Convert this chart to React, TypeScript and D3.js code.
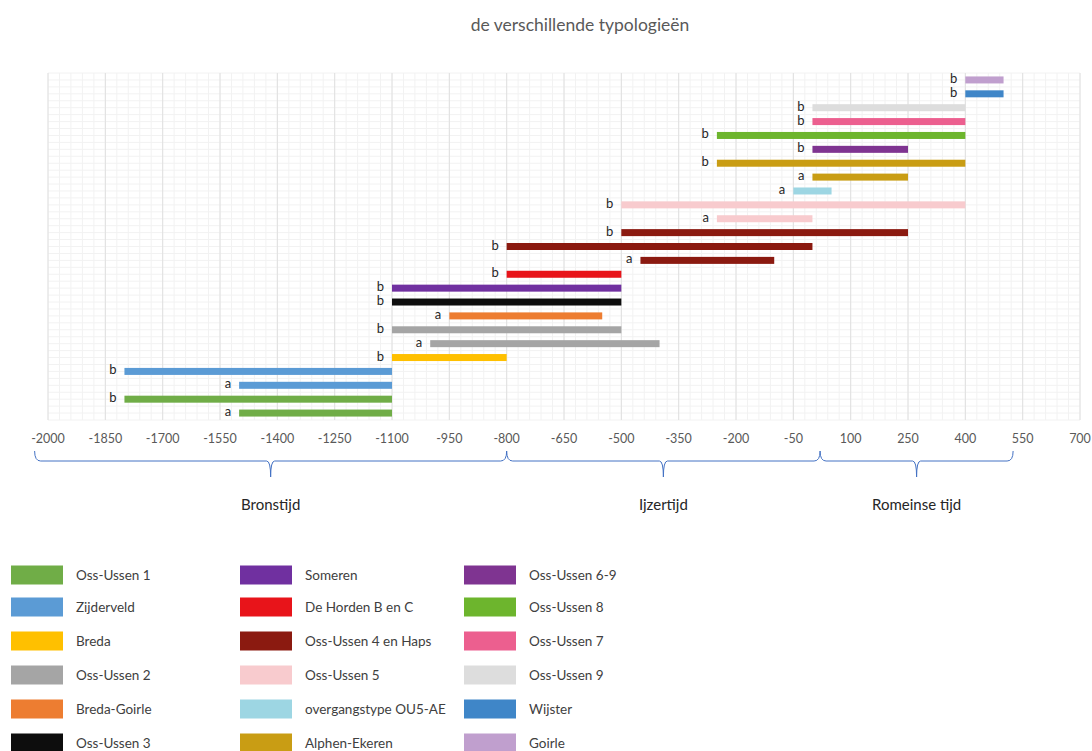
import React from "react";
import * as d3 from "d3";

const typeNames = [
  "Oss-Ussen 1", "Zijderveld", "Breda", "Oss-Ussen 2", "Breda-Goirle", "Oss-Ussen 3",
  "Someren", "De Horden B en C", "Oss-Ussen 4 en Haps", "Oss-Ussen 5", "overgangstype OU5-AE", "Alphen-Ekeren",
  "Oss-Ussen 6-9", "Oss-Ussen 8", "Oss-Ussen 7", "Oss-Ussen 9", "Wijster", "Goirle",
];
const typeColors = [
  "#70AD47", "#5B9BD5", "#FFC000", "#A5A5A5", "#ED7D31", "#0D0D0D",
  "#7030A0", "#E8141A", "#8B1A10", "#F8CBCE", "#9DD6E3", "#C99D14",
  "#7F3491", "#6DB52D", "#EC5F8F", "#DDDDDD", "#3F86C8", "#C09FCE",
];

// bars from bottom to top
const barType = [0, 0, 1, 1, 2, 3, 3, 4, 5, 6, 7, 8, 8, 8, 9, 9, 10, 11, 11, 12, 13, 14, 15, 16, 17];
const barLabel = ["a", "b", "a", "b", "b", "a", "b", "a", "b", "b", "b", "a", "b", "b", "a", "b", "a", "a", "b", "b", "b", "b", "b", "b", "b"];
const barStart = [-1500, -1800, -1500, -1800, -1100, -1000, -1100, -950, -1100, -1100, -800, -450, -800, -500, -250, -500, -50, 0, -250, 0, -250, 0, 0, 400, 400];
const barEnd = [-1100, -1100, -1100, -1100, -800, -400, -500, -550, -500, -500, -500, -100, 0, 250, 0, 400, 50, 250, 400, 250, 400, 400, 400, 500, 500];

const tickValues = [-2000, -1850, -1700, -1550, -1400, -1250, -1100, -950, -800, -650, -500, -350, -200, -50, 100, 250, 400, 550, 700];

const periodNames = ["Bronstijd", "Ijzertijd", "Romeinse tijd"];
const periodFrom = [-2035, -800, 20];
const periodTo = [-800, 20, 525];

const FONT = "Lato, 'Open Sans', sans-serif";

export default function App() {
  const W = 1092, H = 751;
  const x = d3.scaleLinear().domain([-2000, 700]).range([48, 1080]);
  const idx = barType.map((_, i) => i);
  const y = d3.scaleBand<number>().domain(idx).range([420, 73]);
  const barH = 7;

  const minorX = d3.range(-2000, 701, 30);
  const minorY = d3.range(73, 421, y.bandwidth() / 2);

  const braceTop = 451, braceMid = 461, braceTip = 477;
  const bracePath = (a: number, b: number) => {
    const xa = x(a), xb = x(b), xm = (xa + xb) / 2;
    return `M${xa},${braceTop} Q${xa},${braceMid} ${xa + 6},${braceMid} L${xm - 4},${braceMid} Q${xm},${braceMid} ${xm},${braceTip} Q${xm},${braceMid} ${xm + 4},${braceMid} L${xb - 6},${braceMid} Q${xb},${braceMid} ${xb},${braceTop}`;
  };

  const legendColX = [11, 240, 464];
  const legendRowY = [575, 607, 641, 675, 709, 743];

  return (
    <svg width={W} height={H} style={{ position: "absolute", left: 0, top: 0, background: "#fff" }}>
      <text x={580} y={31} textAnchor="middle" fontFamily={FONT} fontSize={17.5} fill="#595959">
        de verschillende typologieën
      </text>
      <g>
        {minorX.map((v) => (
          <line key={"mx" + v} x1={x(v)} x2={x(v)} y1={73} y2={420} stroke="#f2f2f2" strokeWidth={1} />
        ))}
        {minorY.map((v, i) => (
          <line key={"my" + i} x1={x(-2000)} x2={x(700)} y1={v} y2={v} stroke="#f2f2f2" strokeWidth={1} />
        ))}
        {tickValues.map((v) => (
          <line key={"gx" + v} x1={x(v)} x2={x(v)} y1={73} y2={420} stroke="#e0e0e0" strokeWidth={1} />
        ))}
      </g>
      <g>
        {idx.map((i) => {
          const yc = (y(i) as number) + y.bandwidth() / 2;
          return (
            <g key={"b" + i}>
              <rect
                x={x(barStart[i])}
                y={yc - barH / 2}
                width={x(barEnd[i]) - x(barStart[i])}
                height={barH}
                fill={typeColors[barType[i]]}
              />
              <text
                x={x(barStart[i]) - 8}
                y={yc + 3}
                textAnchor="end"
                fontFamily={FONT}
                fontSize={13}
                fill="#262626"
              >
                {barLabel[i]}
              </text>
            </g>
          );
        })}
      </g>
      <g>
        {tickValues.map((v) => (
          <text key={"t" + v} x={x(v)} y={443} textAnchor="middle" fontFamily={FONT} fontSize={12.5} fill="#595959">
            {v}
          </text>
        ))}
      </g>
      <g>
        {periodNames.map((p, i) => (
          <g key={p}>
            <path d={bracePath(periodFrom[i], periodTo[i])} fill="none" stroke="#4472C4" strokeWidth={1} />
            <text
              x={(x(periodFrom[i]) + x(periodTo[i])) / 2}
              y={510}
              textAnchor="middle"
              fontFamily={FONT}
              fontSize={15}
              fill="#262626"
            >
              {p}
            </text>
          </g>
        ))}
      </g>
      <g>
        {typeNames.map((n, i) => {
          const col = Math.floor(i / 6), row = i % 6;
          const cy = legendRowY[row];
          return (
            <g key={n}>
              <rect x={legendColX[col]} y={cy - 9.5} width={52} height={19} fill={typeColors[i]} />
              <text x={legendColX[col] + 65} y={cy + 5} fontFamily={FONT} fontSize={13.5} fill="#404040">
                {n}
              </text>
            </g>
          );
        })}
      </g>
    </svg>
  );
}
